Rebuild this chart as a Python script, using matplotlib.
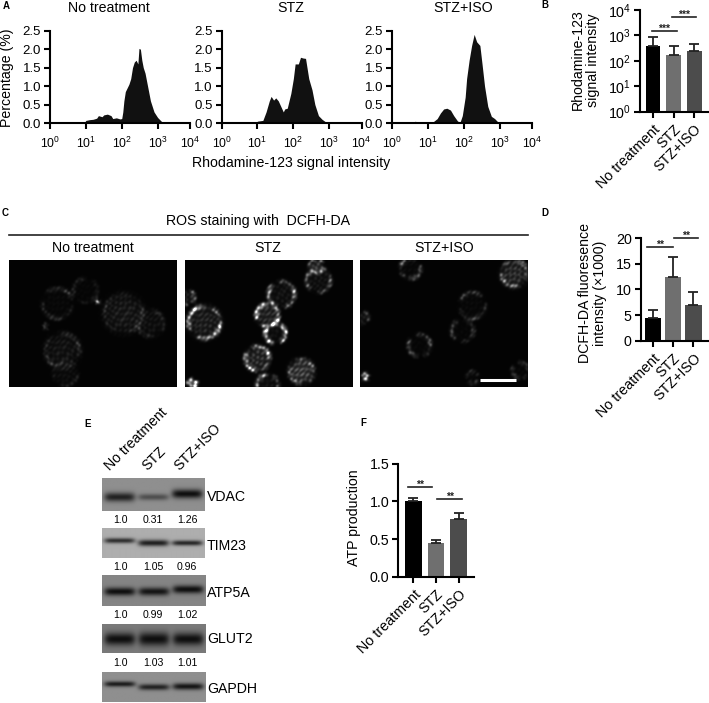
import matplotlib
matplotlib.use("Agg")
import matplotlib.pyplot as plt
import numpy as np

plt.rcParams['font.family'] = ['Liberation Sans', 'DejaVu Sans']
plt.rcParams['mathtext.fontset'] = 'custom'
plt.rcParams['mathtext.rm'] = 'Liberation Sans'
plt.rcParams['mathtext.default'] = 'regular'
plt.rcParams['axes.linewidth'] = 1.5

W, H = 709, 703
groups = ["No treatment", "STZ", "STZ+ISO"]

# A: histograms (log10 intensity, percentage)
hist_no_x = [0.95, 1.0, 1.1, 1.2, 1.3, 1.35, 1.45, 1.5, 1.6, 1.7, 1.75, 1.85, 1.95, 2.0, 2.03, 2.06, 2.1,
             2.15, 2.2, 2.25, 2.3, 2.35, 2.4, 2.45, 2.48, 2.52, 2.56, 2.6, 2.65, 2.7, 2.75, 2.8, 2.85, 2.9, 3.0, 3.1, 3.17]
hist_no_y = [0, 0.07, 0.09, 0.1, 0.13, 0.2, 0.17, 0.22, 0.24, 0.2, 0.12, 0.14, 0.11, 0.12, 0.3, 0.6, 0.85,
             0.95, 1.05, 1.2, 1.5, 1.65, 1.7, 1.6, 2.02, 2.0, 1.7, 1.5, 1.35, 1.1, 0.85, 0.6, 0.45, 0.3, 0.15, 0.05, 0]
hist_stz_x = [0.95, 1.0, 1.15, 1.24, 1.33, 1.38, 1.45, 1.51, 1.58, 1.65, 1.72, 1.76, 1.83, 1.93, 2.0, 2.05, 2.14,
              2.2, 2.27, 2.34, 2.43, 2.52, 2.6, 2.7, 2.8, 2.9, 2.98]
hist_stz_y = [0, 0.05, 0.07, 0.3, 0.6, 0.72, 0.62, 0.68, 0.6, 0.45, 0.3, 0.38, 0.4, 0.8, 1.2, 1.6, 1.6,
              1.78, 1.76, 1.75, 1.2, 0.9, 0.5, 0.2, 0.1, 0.03, 0]
hist_iso_x = [0.6, 0.65, 0.72, 1.1, 1.17, 1.26, 1.35, 1.44, 1.53, 1.63, 1.72, 1.83, 1.9, 1.96, 2.04, 2.08, 2.15,
              2.22, 2.29, 2.36, 2.45, 2.51, 2.58, 2.67, 2.77, 2.86, 2.95, 3.0]
hist_iso_y = [0, 0.05, 0, 0, 0.05, 0.12, 0.27, 0.38, 0.4, 0.35, 0.2, 0.05, 0.03, 0.2, 0.7, 1.2, 1.7,
              2.1, 2.4, 2.2, 2.1, 1.6, 1.0, 0.45, 0.18, 0.12, 0.03, 0]
hist_ticks = [1, 10, 100, 1000, 8000]
hist_labels = ["$10^{0}$", "$10^{1}$", "$10^{2}$", "$10^{3}$", "$10^{4}$"]

# B, D, F: bars
rho_mean = [380, 170, 250]
rho_top = [850, 380, 480]
dcf_mean = [4.4, 12.5, 6.9]
dcf_top = [5.9, 16.3, 9.4]
atp_mean = [1.0, 0.45, 0.76]
atp_top = [1.05, 0.49, 0.85]
bar_colors = ["#000000", "#6f6f6f", "#4c4c4c"]

# C: cells in the micrographs (x, y, radius, ring level, fill level)
cells_no = [(48, 43, 15, 0.24, 0.03), (76, 30, 12, 0.16, 0.02), (114, 53, 19, 0.16, 0.12), (141, 63, 13, 0.18, 0.07),
            (53, 90, 17, 0.22, 0.09), (56, 113, 12, 0.12, 0.05), (88, 41, 1, 0.7, 0.6), (36, 66, 2, 0.22, 0.2)]
cells_stz = [(96, 34, 13, 0.8, 0.08), (82, 55, 11, 1.3, 0.2), (90, 73, 10, 1.3, 0.06), (133, 20, 12, 0.45, 0.08),
             (131, 5, 7, 0.7, 0.2), (19, 62, 16, 1.1, 0.16), (72, 98, 12, 1.0, 0.22), (116, 111, 12, 0.45, 0.32),
             (82, 125, 11, 0.8, 0.08), (7, 123, 4, 1.0, 0.7), (2, 37, 7, 0.5, 0.12)]
cells_iso = [(154, 13, 13, 0.6, 0.22), (50, 8, 10, 0.55, 0.03), (112, 45, 13, 0.28, 0.03), (102, 70, 11, 0.3, 0.02),
             (59, 85, 11, 0.4, 0.02), (5, 116, 3, 0.6, 0.7), (160, 110, 8, 0.3, 0.02), (112, 117, 6, 0.2, 0.03),
             (2, 57, 6, 0.25, 0.08)]

# E: blots, background gray and band strength per lane
blot_names = ["VDAC", "TIM23", "ATP5A", "GLUT2", "GAPDH"]
blot_bg = [0.56, 0.68, 0.52, 0.48, 0.56]
blot_band = [[0.85, 0.5, 1.0], [0.8, 0.9, 0.85], [1.0, 0.95, 1.0], [1.0, 1.0, 1.0], [0.9, 0.85, 0.95]]
blot_ypos = [[0.58, 0.58, 0.48], [0.42, 0.5, 0.5], [0.55, 0.55, 0.48], [0.52, 0.52, 0.52], [0.42, 0.52, 0.5]]
blot_thick = [[0.14, 0.1, 0.14], [0.09, 0.11, 0.09], [0.13, 0.13, 0.13], [0.22, 0.24, 0.22], [0.09, 0.1, 0.11]]
blot_ratio = [["1.0", "0.31", "1.26"], ["1.0", "1.05", "0.96"], ["1.0", "0.99", "1.02"], ["1.0", "1.03", "1.01"]]

fig = plt.figure(figsize=(W / 100, H / 100), dpi=100)


def px_axes(left, top, right, bottom):
    return fig.add_axes([left / W, 1 - bottom / H, (right - left) / W, (bottom - top) / H])


# overlay in pixel coordinates for labels and brackets
over = fig.add_axes([0, 0, 1, 1], zorder=10)
over.set_xlim(0, W)
over.set_ylim(H, 0)
over.axis("off")


def style(ax):
    ax.spines["top"].set_visible(False)
    ax.spines["right"].set_visible(False)
    ax.tick_params(width=1.5, length=4.5, labelsize=9.5, pad=2)
    ax.minorticks_off()


def hist_panel(left, xs, ys):
    ax = px_axes(left, 30.7, left + 140, 123)
    ax.fill_between(10 ** np.array(xs), ys, 0, color="#111111", lw=0)
    ax.set_xscale("log")
    ax.set_xlim(1, 8000)
    ax.set_ylim(0, 2.5)
    ax.set_yticks([0, 0.5, 1, 1.5, 2, 2.5])
    ax.set_yticklabels(["0.0", "0.5", "1.0", "1.5", "2.0", "2.5"])
    ax.set_xticks(hist_ticks)
    ax.set_xticklabels(hist_labels)
    style(ax)
    ax.tick_params(axis="x", labelsize=8.8, pad=5)
    return ax


def bar_panel(rect, mean, top, xlim, width, ylim, yticks, ylabels=None, log=False):
    ax = px_axes(*rect)
    for i in range(3):
        ax.bar(i, mean[i], width, color=bar_colors[i], bottom=1 if log else 0)
        ax.errorbar(i, mean[i], yerr=[[0], [top[i] - mean[i]]], color="#222222", lw=1.3, capsize=3.5, capthick=1.3)
    if log:
        ax.set_yscale("log")
    ax.set_xlim(*xlim)
    ax.set_ylim(*ylim)
    ax.set_yticks(yticks)
    if ylabels:
        ax.set_yticklabels(ylabels)
    ax.set_xticks([0, 1, 2])
    ax.set_xticklabels(groups, rotation=45, ha="right", rotation_mode="anchor", fontsize=10.3)
    style(ax)
    ax.tick_params(axis="y", labelsize=10.3)
    ax.tick_params(axis="x", labelsize=10.3, pad=3)
    return ax


def bracket(x0, x1, y, stars):
    over.plot([x0, x1], [y, y], color="#222222", lw=1.2)
    over.text((x0 + x1) / 2, y - 2, stars, ha="center", va="center", fontsize=7.5, fontweight="bold", color="#222222")


def micrograph(cells, w=168, h=127):
    yy, xx = np.mgrid[0:h, 0:w]
    img = np.zeros((h, w))
    # speckle from sines with unrelated frequencies, so no regular grid shows
    grain = (np.sin(1.31 * xx + 0.47 * yy + 2.1 * np.sin(0.23 * yy)) + np.sin(0.37 * xx - 1.13 * yy + 2.9 * np.sin(0.19 * xx))
             + np.sin(0.83 * xx + 0.91 * yy + 3.2 * np.sin(0.11 * xx + 0.17 * yy)))
    grain = np.clip(0.35 + grain / 3, 0, 1) ** 1.5
    for cx, cy, r, ring, fill in cells:
        d = np.hypot(xx - cx, yy - cy)
        ang = np.arctan2(yy - cy, xx - cx)
        lobes = np.clip(0.55 + 0.4 * np.sin(2 * ang + cx) + 0.3 * np.sin(5 * ang + cy), 0, 1)
        img += ring * np.exp(-((d - r) / 2.0) ** 2) * (0.4 + grain) * lobes
        img += fill * np.exp(-(d / r) ** 4) * (0.4 + grain)
    # light blur, the picture is soft
    kernel = np.array([0.25, 0.5, 0.25])
    img = np.apply_along_axis(lambda v: np.convolve(v, kernel, mode="same"), 0, img)
    img = np.apply_along_axis(lambda v: np.convolve(v, kernel, mode="same"), 1, img)
    return np.clip(img + 0.012, 0, 1)


# panel A
hist_panel(50, hist_no_x, hist_no_y)
hist_panel(221.6, hist_stz_x, hist_stz_y)
hist_panel(392, hist_iso_x, hist_iso_y)
for x, name in zip([109, 291, 463], groups):
    over.text(x, 8, name, ha="center", va="center", fontsize=10.2)
over.text(7, 78, "Percentage (%)", rotation=90, ha="center", va="center", fontsize=10.2)
over.text(291, 163, "Rhodamine-123 signal intensity", ha="center", va="center", fontsize=10.2)

# panel B
bar_panel((640, 10, 708, 111.7), rho_mean, rho_top, (-0.634, 2.68), 0.73, (1, 10000),
          [1, 10, 100, 1000, 10000], ["$10^{0}$", "$10^{1}$", "$10^{2}$", "$10^{3}$", "$10^{4}$"], log=True)
over.text(585, 60, "Rhodamine-123\nsignal intensity", rotation=90, ha="center", va="center", fontsize=10.2, linespacing=1.1)
bracket(651.7, 676.7, 31, "***")
bracket(671.7, 696, 16.7, "***")

# panel C
over.plot([9, 528], [235, 235], color="#222222", lw=1.2)
over.text(258, 221, "ROS staining with  DCFH-DA", ha="center", va="center", fontsize=10.2)
for (x0, x1), cells, name in zip([(9, 177), (184.5, 352), (360, 528)], [cells_no, cells_stz, cells_iso], groups):
    ax = px_axes(x0, 260, x1, 387)
    ax.imshow(micrograph(cells), cmap="gray", vmin=0, vmax=1, aspect="auto", interpolation="bilinear")
    ax.axis("off")
    over.text((x0 + x1) / 2, 248, name, ha="center", va="center", fontsize=10.2)
over.plot([480, 516], [380, 380], color="white", lw=2.2, solid_capstyle="butt")

# panel D
bar_panel((640.7, 238, 708, 340.7), dcf_mean, dcf_top, (-0.6, 2.72), 0.82, (0, 20),
          [0, 5, 10, 15, 20])
over.text(592.5, 293, "DCFH-DA fluoresence\nintensity (×1000)", rotation=90, ha="center", va="center", fontsize=10.2, linespacing=1.1)
bracket(647.3, 672.7, 246.7, "**")
bracket(673.7, 698, 238, "**")

# panel E
blot_rects = [(101.7, 478, 204, 511), (101.7, 527.7, 204, 557.7), (101.7, 575, 205, 606), (101.7, 624, 205, 652.7), (101.7, 672, 205, 702.3)]
for k, rect in enumerate(blot_rects):
    ax = px_axes(*rect)
    yy, xx = np.mgrid[0:1:60j, 0:1:180j]
    img = np.full(xx.shape, blot_bg[k], dtype=float)
    for lane, cx in enumerate([0.17, 0.5, 0.83]):
        shape = np.exp(-((xx - cx) / 0.15) ** 6) * np.exp(-((yy - blot_ypos[k][lane]) / blot_thick[k][lane]) ** 2)
        img -= (blot_bg[k] - 0.06) * blot_band[k][lane] * shape
    ax.imshow(img, cmap="gray", vmin=0, vmax=1, aspect="auto")
    ax.axis("off")
for name, y in zip(blot_names, [497, 546, 593, 639, 689]):
    over.text(207, y, name, ha="left", va="center", fontsize=10.2)
for row, y in zip(blot_ratio, [520, 567, 615, 662.7]):
    for val, x in zip(row, [120, 153, 187]):
        over.text(x, y, val, ha="center", va="center", fontsize=7.6)
for name, x in zip(groups, [112, 149, 181]):
    over.text(x, 473, name, rotation=45, ha="left", va="bottom", rotation_mode="anchor", fontsize=10.2)

# panel F
bar_panel((398.3, 463.7, 474, 576.7), atp_mean, atp_top, (-0.67, 2.68), 0.72, (0, 1.5),
          [0, 0.5, 1, 1.5], ["0.0", "0.5", "1.0", "1.5"])
over.text(354, 518, "ATP production", rotation=90, ha="center", va="center", fontsize=10.2)
bracket(407.7, 432.3, 486.7, "**")
bracket(437.3, 462.3, 499.3, "**")

# panel letters
for s, x, y in [("A", 6, 6), ("B", 545, 5), ("C", 5, 213), ("D", 545, 213), ("E", 88, 424), ("F", 363, 423)]:
    over.text(x, y, s, ha="center", va="center", fontsize=7, fontweight="bold")

fig.savefig("out.png", dpi=100)
